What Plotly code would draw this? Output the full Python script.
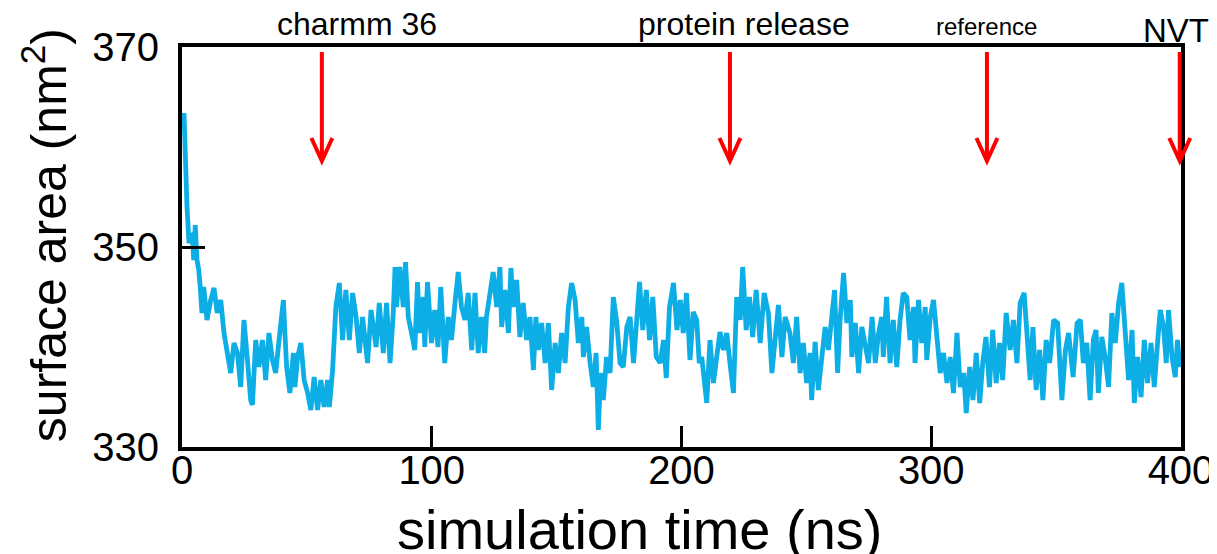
import plotly.graph_objects as go

# simulation time (ns) and surface area (nm^2)
time_ns = [
    0.8, 1.4, 2.0, 2.8, 4.1, 4.7, 5.3, 6.0, 6.7, 7.3, 8.0, 8.7, 10.0, 11.5, 12.8, 14.1, 15.5, 16.8, 18.1, 19.5,
    20.8, 22.2, 23.5, 24.8, 26.2, 27.5, 28.2, 29.5, 30.8, 32.2, 33.5, 34.8, 36.2, 37.5,
    39.2, 40.6, 41.2, 41.9, 43.2, 44.6, 45.2, 46.3, 47.6, 48.9, 50.3, 51.6, 52.9, 54.3, 55.6, 56.9, 58.3, 59.0,
    60.3, 61.6, 63.0, 64.3, 65.6, 67.0, 68.3, 69.7, 71.0, 72.3, 74.3, 75.7, 77.7, 79.0,
    80.6, 81.9, 83.3, 84.6, 85.3, 85.9, 87.2, 88.6, 89.5, 90.6, 91.9, 93.2, 94.3, 95.2, 96.6, 97.2, 98.3, 99.9,
    101.2, 102.5, 103.6, 105.2, 106.6, 107.9, 109.3, 110.6, 111.9, 113.3, 114.6, 116.0, 117.3, 118.6,
    119.9, 121.2, 121.9, 123.3, 124.6, 126.0, 127.3, 128.0, 129.3, 130.7, 131.7, 132.6, 134.0, 135.3, 136.6, 138.0,
    139.3, 140.7, 141.7, 142.7, 144.0, 145.4, 146.7, 148.0, 149.4, 150.7, 152.0, 153.4, 154.7, 156.0, 157.4, 158.7,
    160.1, 160.7, 162.0, 163.4, 164.7, 165.8, 166.7, 167.6, 168.7, 170.0, 171.4, 172.7, 174.1, 175.4, 176.7, 178.1,
    179.4, 180.8, 182.1, 183.2, 184.5, 185.9, 187.2, 188.5, 189.9, 191.5, 192.8, 193.9, 195.2, 196.8, 198.2, 199.5,
    200.7, 202.0, 203.4, 204.7, 206.1, 207.1, 208.1, 209.4, 210.1, 211.4, 212.8, 214.1, 215.4, 216.8, 218.1, 219.4,
    220.8, 222.1, 223.5, 224.5, 225.9, 227.2, 228.5, 229.9, 231.5, 233.1, 234.8, 236.2, 237.5, 238.8,
    240.2, 241.5, 243.4, 244.8, 246.1, 247.5, 248.8, 250.1, 251.5, 252.1, 253.5, 254.8, 256.2, 257.5, 258.8, 260.2,
    261.3, 262.5, 263.5, 264.9, 266.2, 267.6, 268.2, 269.6, 270.9, 272.2, 273.6, 274.9, 276.3, 277.6, 278.9,
    280.2, 280.8, 282.1, 283.5, 284.8, 286.2, 287.5, 288.8, 290.2, 291.5, 292.9, 293.5, 294.9, 296.2, 297.6, 298.2,
    299.6, 300.9, 302.2, 303.6, 304.9, 306.3, 307.6, 308.9, 310.3, 311.6, 313.0, 314.0, 315.4, 316.7, 318.0, 319.4,
    320.6, 321.9, 323.3, 324.6, 326.0, 327.3, 328.6, 330.0, 331.6, 332.9, 334.3, 335.6, 337.2, 338.3, 339.6, 340.7,
    342.0, 343.4, 344.7, 346.0, 347.4, 349.0, 350.6, 352.3, 353.7, 355.0, 356.8, 358.4, 359.7,
    360.9, 362.3, 363.6, 364.9, 366.0, 366.9, 368.3, 369.6, 371.0, 372.3, 373.7, 375.0, 376.3, 377.7, 379.0, 380.4,
    381.3, 382.6, 384.0, 385.3, 386.6, 388.0, 389.3, 390.7, 391.7, 393.0, 394.1, 395.0, 396.4, 397.7, 398.6, 399.5,
]
surface_area = [
    363.4, 358.0, 354.0, 350.4, 351.4, 348.7, 352.2, 348.7, 347.7, 346.0, 343.4, 346.0, 342.7, 344.7, 345.9, 343.4, 344.7, 341.4, 339.4, 337.4,
    340.4, 339.4, 336.0, 342.7, 338.7, 334.7, 334.2, 340.7, 338.0, 340.7, 336.7, 341.4, 338.7, 337.4,
    341.5, 344.7, 341.4, 338.0, 335.4, 339.4, 336.0, 339.0, 340.4, 336.7, 335.4, 333.7, 337.0, 333.7, 336.7, 334.0, 336.7, 334.0,
    337.7, 344.0, 346.4, 340.7, 345.7, 340.7, 345.4, 343.0, 339.4, 343.0, 338.4, 343.7, 340.0, 344.4,
    339.4, 344.4, 338.4, 343.4, 348.0, 344.0, 348.0, 344.0, 348.5, 343.0, 341.4, 339.7, 346.5, 341.4, 345.0, 340.0, 346.5, 340.4,
    343.7, 340.0, 346.0, 338.4, 343.0, 340.7, 344.4, 347.5, 344.0, 342.7, 345.4, 339.7, 345.4, 339.4,
    343.0, 339.4, 343.0, 345.2, 347.5, 344.0, 348.0, 342.0, 345.7, 341.4, 347.9, 344.0, 346.7, 341.0, 344.4, 340.7,
    343.0, 337.7, 343.0, 339.7, 342.4, 338.4, 342.4, 335.7, 340.4, 337.4, 341.4, 338.4, 344.0, 346.4, 344.7, 340.4,
    343.0, 339.0, 342.0, 338.4, 336.0, 339.4, 331.7, 337.4, 334.7, 339.0, 337.4, 345.0, 342.4, 338.4, 338.0, 342.0,
    343.0, 338.4, 343.0, 346.5, 341.7, 345.7, 340.7, 345.0, 339.0, 338.4, 340.7, 336.9, 344.0, 346.4, 341.7, 344.7,
    341.4, 345.4, 338.7, 343.5, 342.7, 338.4, 339.0, 336.0, 334.4, 340.7, 336.4, 339.0, 341.5, 339.7, 341.4, 338.4,
    335.4, 345.0, 342.7, 348.0, 341.7, 345.0, 341.0, 345.7, 340.4, 345.4, 343.4, 337.4, 340.7, 344.2,
    339.0, 343.0, 341.4, 338.4, 343.0, 337.4, 340.4, 336.4, 339.4, 334.7, 340.5, 335.7, 339.0, 342.0, 339.7, 343.0,
    345.7, 337.4, 342.7, 347.4, 342.4, 344.7, 339.0, 342.4, 337.4, 342.0, 340.0, 338.4, 343.0, 338.4, 341.4,
    343.0, 339.0, 345.0, 338.4, 342.7, 338.0, 342.7, 345.4, 345.0, 340.7, 344.0, 338.4, 344.7, 340.4, 344.0, 338.7,
    343.0, 344.7, 340.7, 337.4, 339.4, 336.4, 339.0, 335.4, 341.4, 336.0, 337.4, 333.4, 338.0, 334.7, 339.4, 334.4,
    338.4, 341.0, 336.0, 341.7, 336.4, 340.4, 336.7, 343.4, 339.7, 342.7, 338.4, 344.4, 345.4, 341.4, 336.7, 342.0,
    335.7, 339.7, 334.7, 340.7, 338.4, 342.7, 342.4, 334.7, 339.7, 341.4, 337.0, 342.4, 342.7,
    338.4, 340.4, 334.7, 340.7, 341.7, 335.4, 341.0, 339.0, 336.0, 343.4, 340.4, 344.4, 346.4, 340.7, 336.7, 341.7,
    334.4, 339.0, 335.0, 340.7, 336.4, 340.4, 336.0, 340.7, 343.7, 342.0, 338.4, 343.7, 339.0, 337.0, 340.7, 338.0,
]

# events marked with red arrows
event_labels = ["charmm 36", "protein release", "reference", "NVT"]
event_times = [56.0, 219.4, 322.3, 399.5]
label_x = [70.0, 225.0, 322.3, 398.0]
label_size = [32, 32, 24, 33]
label_y = [1.0575, 1.0575, 1.05, 1.041]

x_ticks = [0, 100, 200, 300, 400]
y_ticks = [330, 350, 370]
X_RANGE = [0, 400]
Y_RANGE = [330, 370]
X_TITLE = "simulation time (ns)"
Y_TITLE = "surface area (nm<sup>2</sup>)"

FONT = "Arial, Liberation Sans, sans-serif"
RED = "#ff0000"

fig = go.Figure()
fig.add_trace(go.Scatter(
    x=time_ns, y=surface_area, mode="lines",
    line=dict(color="#0DAEE6", width=4.8),
    showlegend=False, hoverinfo="skip",
))

shapes = []
for t in event_times:
    fx = (t - X_RANGE[0]) / (X_RANGE[1] - X_RANGE[0])
    top = (369.5 - Y_RANGE[0]) / (Y_RANGE[1] - Y_RANGE[0])
    tip = (358.6 - Y_RANGE[0]) / (Y_RANGE[1] - Y_RANGE[0])
    wing = (360.9 - Y_RANGE[0]) / (Y_RANGE[1] - Y_RANGE[0])
    dx = 0.0105
    path = (f"M {fx},{top} L {fx},{tip} "
            f"M {fx - dx},{wing} L {fx},{tip} L {fx + dx},{wing}")
    shapes.append(dict(type="path", xref="x domain", yref="y domain", path=path,
                       line=dict(color=RED, width=4), layer="above"))

annotations = []
for lab, lx, sz, ly in zip(event_labels, label_x, label_size, label_y):
    annotations.append(dict(text=lab, x=lx, xref="x", y=ly, yref="paper",
                            xanchor="center", yanchor="middle", showarrow=False,
                            font=dict(family=FONT, size=sz, color="black")))
# axis titles (placed as in the reference, slightly off-centre)
annotations.append(dict(text=X_TITLE, x=0.4575, xref="paper", y=-0.205, yref="paper",
                        xanchor="center", yanchor="middle", showarrow=False,
                        font=dict(family=FONT, size=56, color="black")))
annotations.append(dict(text=Y_TITLE, x=-0.137, xref="paper", y=0.53, yref="paper",
                        xanchor="center", yanchor="middle", showarrow=False, textangle=-90,
                        font=dict(family=FONT, size=50, color="black")))

# the page body adds an 8 px offset; the figure is sized to fit the window
fig.update_layout(
    width=1209, height=546,
    margin=dict(l=174, r=36, t=39, b=107),
    paper_bgcolor="white", plot_bgcolor="white",
    font=dict(family=FONT, color="black"),
    shapes=shapes, annotations=annotations,
    xaxis=dict(
        range=X_RANGE, tickvals=x_ticks, ticktext=[str(v) for v in x_ticks],
        ticks="inside", ticklen=21, tickwidth=3, tickcolor="black",
        showline=True, linewidth=4, linecolor="black", mirror=True,
        showgrid=False, zeroline=False, automargin=False,
        tickfont=dict(size=40, family=FONT), ticklabelstandoff=-15,
    ),
    yaxis=dict(
        range=Y_RANGE, tickvals=y_ticks, ticktext=[str(v) for v in y_ticks],
        ticks="inside", ticklen=23, tickwidth=3, tickcolor="black",
        showline=True, linewidth=4, linecolor="black", mirror=True,
        showgrid=False, zeroline=False, automargin=False,
        tickfont=dict(size=40, family=FONT), ticklabelstandoff=11,
    ),
)

fig.write_html("out.html")
